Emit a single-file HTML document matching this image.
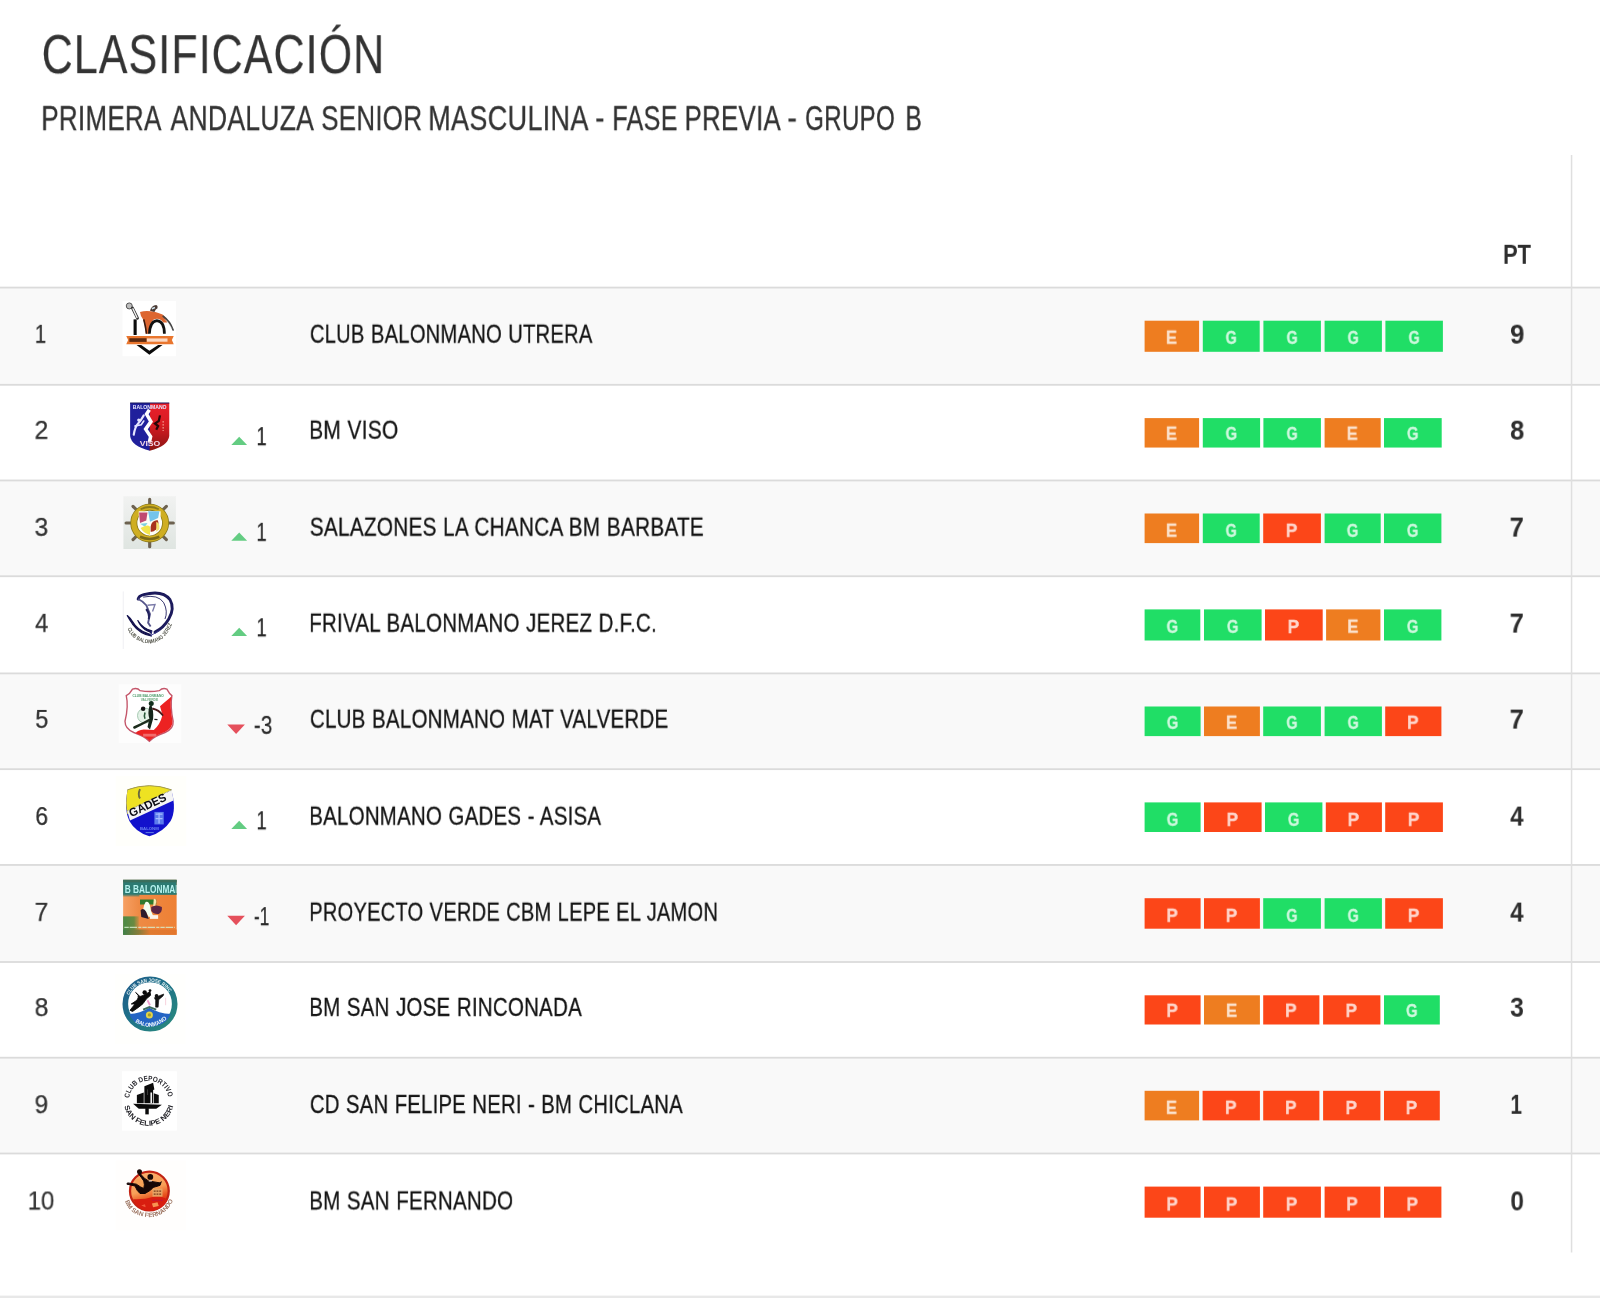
<!DOCTYPE html>
<html lang="es">
<head>
<meta charset="utf-8">
<title>Clasificación</title>
<style>
html,body{margin:0;padding:0;background:#fff;}
body{width:1600px;height:1298px;position:relative;overflow:hidden;font-family:"Liberation Sans",sans-serif;color:#333;}
.t{position:absolute;left:0;top:0;white-space:nowrap;line-height:1;transform-origin:0 0;display:block;margin:0;font-weight:normal;will-change:transform;}
h2.t{font-size:55.6px;color:#333;letter-spacing:.025em;-webkit-text-stroke:.2px #333;}
h4.sub{margin:0;font-weight:normal;font-size:35px;}
.sw{font-size:35px;color:#333;letter-spacing:.01em;-webkit-text-stroke:.3px #333;}
.nm{font-size:26.2px;color:#151515;word-spacing:.02em;letter-spacing:.012em;-webkit-text-stroke:.3px #151515;}
.rk{font-size:26.2px;color:#333;-webkit-text-stroke:.25px #333;}
.mv{font-size:26.2px;color:#2a2a2a;-webkit-text-stroke:.25px #2a2a2a;}
.pt{font-size:26.8px;font-weight:bold;color:#2e2e2e;}
.b{position:absolute;height:30.6px;}
.bl{font-size:18.4px;font-weight:bold;color:#fff;opacity:.78;-webkit-text-stroke:.3px #fff;}
.tri{position:absolute;width:0;height:0;border-left:8px solid transparent;border-right:8px solid transparent;}
.up{border-bottom:8.5px solid #62cd80;}
.dn{border-top:9.5px solid #e4505a;}
</style>
</head>
<body>
<svg class="grid" style="position:absolute;left:0;top:0;width:1600px;height:1298px" viewBox="0 0 1600 1298">
<rect x="0" y="287.56" width="1600" height="97.24" fill="#f9f9f9"/>
<rect x="0" y="480.47" width="1600" height="95.78" fill="#f9f9f9"/>
<rect x="0" y="673.40" width="1600" height="95.75" fill="#f9f9f9"/>
<rect x="0" y="864.94" width="1600" height="97.06" fill="#f9f9f9"/>
<rect x="0" y="1057.70" width="1600" height="95.80" fill="#f9f9f9"/>
<rect x="0" y="286.66" width="1600" height="1.8" fill="#dbdbdb"/>
<rect x="0" y="383.90" width="1600" height="1.8" fill="#dbdbdb"/>
<rect x="0" y="479.57" width="1600" height="1.8" fill="#dbdbdb"/>
<rect x="0" y="575.35" width="1600" height="1.8" fill="#dbdbdb"/>
<rect x="0" y="672.50" width="1600" height="1.8" fill="#dbdbdb"/>
<rect x="0" y="768.25" width="1600" height="1.8" fill="#dbdbdb"/>
<rect x="0" y="864.04" width="1600" height="1.8" fill="#dbdbdb"/>
<rect x="0" y="961.10" width="1600" height="1.8" fill="#dbdbdb"/>
<rect x="0" y="1056.80" width="1600" height="1.8" fill="#dbdbdb"/>
<rect x="0" y="1152.60" width="1600" height="1.8" fill="#dbdbdb"/>
<rect x="1144.6" y="320.70" width="54.5" height="31.10" fill="#ee7d20"/>
<rect x="1202.8" y="320.70" width="56.9" height="31.10" fill="#20de66"/>
<rect x="1263.4" y="320.70" width="57.5" height="31.10" fill="#20de66"/>
<rect x="1324.6" y="320.70" width="57.3" height="31.10" fill="#20de66"/>
<rect x="1385.4" y="320.70" width="57.5" height="31.10" fill="#20de66"/>
<rect x="1144.6" y="418.10" width="54.5" height="29.45" fill="#ee7d20"/>
<rect x="1202.8" y="418.10" width="57.3" height="29.45" fill="#20de66"/>
<rect x="1263.4" y="418.10" width="57.5" height="29.45" fill="#20de66"/>
<rect x="1324.6" y="418.10" width="56.1" height="29.45" fill="#ee7d20"/>
<rect x="1384.0" y="418.10" width="57.7" height="29.45" fill="#20de66"/>
<rect x="1144.6" y="513.50" width="54.5" height="29.60" fill="#ee7d20"/>
<rect x="1202.8" y="513.50" width="56.9" height="29.60" fill="#20de66"/>
<rect x="1263.2" y="513.50" width="57.7" height="29.60" fill="#fc4618"/>
<rect x="1324.6" y="513.50" width="56.1" height="29.60" fill="#20de66"/>
<rect x="1384.0" y="513.50" width="57.4" height="29.60" fill="#20de66"/>
<rect x="1144.6" y="609.40" width="55.7" height="31.10" fill="#20de66"/>
<rect x="1204.0" y="609.40" width="57.6" height="31.10" fill="#20de66"/>
<rect x="1265.0" y="609.40" width="57.7" height="31.10" fill="#fc4618"/>
<rect x="1326.1" y="609.40" width="54.3" height="31.10" fill="#ee7d20"/>
<rect x="1384.0" y="609.40" width="57.4" height="31.10" fill="#20de66"/>
<rect x="1144.6" y="706.50" width="56.0" height="29.60" fill="#20de66"/>
<rect x="1204.0" y="706.50" width="55.9" height="29.60" fill="#ee7d20"/>
<rect x="1263.2" y="706.50" width="57.7" height="29.60" fill="#20de66"/>
<rect x="1324.6" y="706.50" width="57.3" height="29.60" fill="#20de66"/>
<rect x="1385.2" y="706.50" width="56.2" height="29.60" fill="#fc4618"/>
<rect x="1144.6" y="802.40" width="56.0" height="29.60" fill="#20de66"/>
<rect x="1204.0" y="802.40" width="57.6" height="29.60" fill="#fc4618"/>
<rect x="1265.0" y="802.40" width="57.4" height="29.60" fill="#20de66"/>
<rect x="1325.8" y="802.40" width="56.1" height="29.60" fill="#fc4618"/>
<rect x="1385.2" y="802.40" width="57.7" height="29.60" fill="#fc4618"/>
<rect x="1144.6" y="898.20" width="56.0" height="30.50" fill="#fc4618"/>
<rect x="1204.0" y="898.20" width="55.9" height="30.50" fill="#fc4618"/>
<rect x="1263.2" y="898.20" width="57.7" height="30.50" fill="#20de66"/>
<rect x="1324.6" y="898.20" width="57.3" height="30.50" fill="#20de66"/>
<rect x="1385.2" y="898.20" width="57.7" height="30.50" fill="#fc4618"/>
<rect x="1144.6" y="995.30" width="56.0" height="29.20" fill="#fc4618"/>
<rect x="1204.0" y="995.30" width="55.9" height="29.20" fill="#ee7d20"/>
<rect x="1263.2" y="995.30" width="56.2" height="29.20" fill="#fc4618"/>
<rect x="1323.1" y="995.30" width="57.3" height="29.20" fill="#fc4618"/>
<rect x="1384.0" y="995.30" width="55.8" height="29.20" fill="#20de66"/>
<rect x="1144.6" y="1090.80" width="54.5" height="29.60" fill="#ee7d20"/>
<rect x="1202.6" y="1090.80" width="57.3" height="29.60" fill="#fc4618"/>
<rect x="1263.2" y="1090.80" width="56.2" height="29.60" fill="#fc4618"/>
<rect x="1323.1" y="1090.80" width="57.3" height="29.60" fill="#fc4618"/>
<rect x="1384.0" y="1090.80" width="55.8" height="29.60" fill="#fc4618"/>
<rect x="1144.6" y="1186.60" width="56.0" height="31.10" fill="#fc4618"/>
<rect x="1204.0" y="1186.60" width="55.9" height="31.10" fill="#fc4618"/>
<rect x="1263.2" y="1186.60" width="57.7" height="31.10" fill="#fc4618"/>
<rect x="1324.6" y="1186.60" width="55.8" height="31.10" fill="#fc4618"/>
<rect x="1384.0" y="1186.60" width="57.4" height="31.10" fill="#fc4618"/>
<path d="M231.3 445.00 L239.2 436.70 L247.1 445.00 Z" fill="#63cc82"/>
<path d="M231.3 540.75 L239.2 532.45 L247.1 540.75 Z" fill="#63cc82"/>
<path d="M231.3 636.10 L239.2 627.80 L247.1 636.10 Z" fill="#63cc82"/>
<path d="M227.3 724.55 L244.9 724.55 L236.1 733.95 Z" fill="#e5505c"/>
<path d="M231.3 829.10 L239.2 820.80 L247.1 829.10 Z" fill="#63cc82"/>
<path d="M227.3 915.80 L244.9 915.80 L236.1 925.20 Z" fill="#e5505c"/>
<rect x="1570.8" y="155" width="1.5" height="1097.5" fill="#dfdfdf"/>
<rect x="0" y="1295.6" width="1600" height="2.4" fill="#e8e8e8"/>
</svg>
<h2 class="t " style="transform:translate(41.71px,27.18px) scaleX(0.7733)">CLASIFICACIÓN</h2>
<h4 class="sub"><span class="t sw" style="transform:translate(41.22px,100.10px) scaleX(0.7435)">PRIMERA</span> <span class="t sw" style="transform:translate(170.51px,100.10px) scaleX(0.7580)">ANDALUZA</span> <span class="t sw" style="transform:translate(321.17px,100.10px) scaleX(0.7415)">SENIOR</span> <span class="t sw" style="transform:translate(428.14px,100.10px) scaleX(0.7741)">MASCULINA</span> <span class="t sw" style="transform:translate(595.29px,99.41px) scaleX(0.7834)">-</span> <span class="t sw" style="transform:translate(612.28px,100.10px) scaleX(0.7199)">FASE</span> <span class="t sw" style="transform:translate(684.47px,100.10px) scaleX(0.7396)">PREVIA</span> <span class="t sw" style="transform:translate(787.40px,99.41px) scaleX(0.8115)">-</span> <span class="t sw" style="transform:translate(805.08px,100.10px) scaleX(0.6916)">GRUPO</span> <span class="t sw" style="transform:translate(905.34px,100.10px) scaleX(0.7065)">B</span></h4>
<div class="t pt" style="transform:translate(1503.00px,241.80px) scaleX(0.8178)">PT</div>
<div class="t rk" style="transform:translate(34.84px,320.78px) scaleX(0.7721)">1</div>
<svg class="logo" style="position:absolute;left:100px;top:290px;width:100px;height:81px;filter:blur(.55px)" viewBox="0 0 1600 1296">
<rect x="360" y="176" width="856" height="884" fill="#fff"/>
<path d="M562 470 V720" stroke="#0c0c0c" stroke-width="50" fill="none"/>
<path d="M640 350 Q800 310 1000 390 Q1060 430 1075 520 L1010 520 Q960 440 860 470 Q800 520 775 700 L730 700 Q720 560 690 470 Q650 430 640 350Z" fill="#dd6630"/>
<path d="M790 700 Q800 500 910 490 Q1030 500 1030 700" stroke="#111" stroke-width="44" fill="none"/>
<path d="M700 470 Q730 580 745 700" stroke="#3a1a10" stroke-width="26" fill="none"/>
<circle cx="468" cy="255" r="48" fill="#bdbdbd" stroke="#555" stroke-width="16"/>
<path d="M520 290 L600 450" stroke="#333" stroke-width="46" stroke-linecap="round"/>
<path d="M527 300 L592 440" stroke="#f4f4f4" stroke-width="22" stroke-linecap="round"/>
<path d="M800 330 Q820 250 900 240 Q930 250 920 290 Q890 300 870 350Z" fill="#4a3a34"/>
<path d="M830 300 L880 280" stroke="#cfe4ee" stroke-width="22"/>
<path d="M1010 420 Q1120 500 1170 640" stroke="#444" stroke-width="26" fill="none" stroke-linecap="round"/>
<path d="M1040 470 Q1110 540 1150 620" stroke="#ddd" stroke-width="8" fill="none"/>
<path d="M420 735 L1180 735 L1150 800 L1180 868 L420 868 L450 800Z" fill="#e9762e"/>
<rect x="470" y="772" width="275" height="58" fill="#5a2a12"/>
<rect x="750" y="775" width="330" height="52" fill="#fbd9c4"/>
<path d="M585 880 L790 1035 L1000 880 L930 880 L790 970 L660 880Z" fill="#0a0a0a"/>
<path d="M740 912 L840 912" stroke="#fff" stroke-width="14"/>
</svg>
<div class="t nm" style="transform:translate(309.90px,320.75px) scaleX(0.7701)">CLUB BALONMANO UTRERA</div>
<div class="t bl" style="transform:translate(1165.86px,328.68px) scaleX(0.9047)">E</div>
<div class="t bl" style="transform:translate(1225.63px,328.84px) scaleX(0.7707)">G</div>
<div class="t bl" style="transform:translate(1286.56px,328.82px) scaleX(0.7716)">G</div>
<div class="t bl" style="transform:translate(1347.63px,328.84px) scaleX(0.7707)">G</div>
<div class="t bl" style="transform:translate(1408.56px,328.82px) scaleX(0.7716)">G</div>
<div class="t pt" style="transform:translate(1510.05px,321.66px) scaleX(0.9627)">9</div>
<div class="t rk" style="transform:translate(34.44px,416.78px) scaleX(0.9542)">2</div>
<svg class="logo" style="position:absolute;left:100px;top:386px;width:100px;height:81px;filter:blur(.55px)" viewBox="0 0 1600 1296"><defs><linearGradient id="vr" x1="0" y1="0" x2="0" y2="1"><stop offset="0" stop-color="#e8202c"/><stop offset=".45" stop-color="#d81c22"/><stop offset="1" stop-color="#8a1414"/></linearGradient></defs>
<path d="M482 272 H1108 V800 Q1090 960 795 1035 Q500 960 482 800Z" fill="#fff"/>
<path d="M482 272 H800 V1035 Q500 960 482 800Z" fill="#20209c"/>
<path d="M800 272 H1108 V800 Q1090 960 795 1035Z" fill="url(#vr)"/>
<path d="M790 380 L745 450 L815 570 L730 690 L810 810 L790 900" stroke="#fff" stroke-width="56" fill="none" stroke-linejoin="miter"/>
<path d="M482 272 H1108" stroke="#14145a" stroke-width="18"/>
<text x="795" y="362" font-family="Liberation Sans, sans-serif" font-weight="bold" font-size="74" fill="#e8e8ff" text-anchor="middle" textLength="540" lengthAdjust="spacingAndGlyphs">BALONMANO</text>
<path d="M700 470 Q650 560 610 600 Q560 650 540 780" stroke="#e6e6ff" stroke-width="34" fill="none" stroke-linecap="round"/>
<path d="M560 640 L660 620 L700 560" stroke="#e6e6ff" stroke-width="26" fill="none" stroke-linecap="round"/>
<circle cx="620" cy="545" r="26" fill="#e6e6ff"/>
<path d="M960 470 L940 560 L880 600 L930 640 L900 700" stroke="#2a0606" stroke-width="36" fill="none"/>
<path d="M1010 560 V720" stroke="#f7b0a0" stroke-width="16" stroke-dasharray="26 22"/>
<text x="800" y="962" font-family="Liberation Sans, sans-serif" font-weight="bold" font-size="110" fill="#f3d6e6" text-anchor="middle" textLength="330" lengthAdjust="spacingAndGlyphs">VISO</text>
</svg>
<div class="t mv" style="transform:translate(256.35px,423.11px) scaleX(0.7087)">1</div>
<div class="t nm" style="transform:translate(309.20px,416.75px) scaleX(0.7972)">BM VISO</div>
<div class="t bl" style="transform:translate(1165.86px,424.68px) scaleX(0.9047)">E</div>
<div class="t bl" style="transform:translate(1225.58px,424.82px) scaleX(0.7997)">G</div>
<div class="t bl" style="transform:translate(1286.56px,424.82px) scaleX(0.7716)">G</div>
<div class="t bl" style="transform:translate(1346.66px,424.63px) scaleX(0.9018)">E</div>
<div class="t bl" style="transform:translate(1406.96px,424.83px) scaleX(0.8056)">G</div>
<div class="t pt" style="transform:translate(1510.09px,417.66px) scaleX(0.9524)">8</div>
<div class="t rk" style="transform:translate(34.48px,513.87px) scaleX(0.9464)">3</div>
<svg class="logo" style="position:absolute;left:100px;top:483px;width:100px;height:81px;filter:blur(.55px)" viewBox="0 0 1600 1296"><defs><linearGradient id="bg3" x1="0" y1="0" x2="0" y2="1"><stop offset="0" stop-color="#f1f2f1"/><stop offset="1" stop-color="#dfe5e1"/></linearGradient></defs>
<rect x="375" y="210" width="840" height="846" fill="url(#bg3)"/>
<path d="M795 640 L1173 640" stroke="#6d6250" stroke-width="50" stroke-linecap="round"/><path d="M795 640 L1062 907" stroke="#6d6250" stroke-width="50" stroke-linecap="round"/><path d="M795 640 L795 1018" stroke="#6d6250" stroke-width="50" stroke-linecap="round"/><path d="M795 640 L528 907" stroke="#6d6250" stroke-width="50" stroke-linecap="round"/><path d="M795 640 L417 640" stroke="#6d6250" stroke-width="50" stroke-linecap="round"/><path d="M795 640 L528 373" stroke="#6d6250" stroke-width="50" stroke-linecap="round"/><path d="M795 640 L795 262" stroke="#6d6250" stroke-width="50" stroke-linecap="round"/><path d="M795 640 L1062 373" stroke="#6d6250" stroke-width="50" stroke-linecap="round"/>
<circle cx="795" cy="640" r="254" fill="#fff" stroke="#8a7a1c" stroke-width="112"/>
<circle cx="795" cy="640" r="254" fill="none" stroke="#cfae22" stroke-width="86"/>
<path d="M620 450 H970 V650 Q960 780 795 840 Q630 780 620 650Z" fill="#fdfdf4"/>
<path d="M625 470 L760 470 L740 600 L640 640Z" fill="#c04a72"/>
<path d="M770 450 L950 450 L930 560 L800 620 Z" fill="#74c4ea"/>
<path d="M640 650 L760 640 L720 700 Z" fill="#7fd0e0"/>
<path d="M650 720 Q760 650 800 700 L800 830 Q690 800 650 720Z" fill="#f2e44c"/>
<path d="M810 700 Q820 600 920 590 Q960 650 900 740 Q850 790 810 780Z" fill="#a8321c"/>
<path d="M900 620 Q960 640 950 740 L900 780 Z" fill="#f3e070"/>
<path d="M640 860 Q795 930 950 860" stroke="#7a6a18" stroke-width="40" fill="none"/>
<path d="M650 420 Q795 350 940 420" stroke="#8a7a1c" stroke-width="30" fill="none"/>
</svg>
<div class="t mv" style="transform:translate(256.33px,518.76px) scaleX(0.7101)">1</div>
<div class="t nm" style="transform:translate(309.78px,513.75px) scaleX(0.7930)">SALAZONES LA CHANCA BM BARBATE</div>
<div class="t bl" style="transform:translate(1165.86px,521.68px) scaleX(0.9047)">E</div>
<div class="t bl" style="transform:translate(1225.63px,521.84px) scaleX(0.7707)">G</div>
<div class="t bl" style="transform:translate(1285.76px,521.79px) scaleX(0.9445)">P</div>
<div class="t bl" style="transform:translate(1346.75px,521.83px) scaleX(0.8109)">G</div>
<div class="t bl" style="transform:translate(1406.86px,521.83px) scaleX(0.8037)">G</div>
<div class="t pt" style="transform:translate(1509.62px,514.58px) scaleX(0.9547)">7</div>
<div class="t rk" style="transform:translate(35.11px,609.79px) scaleX(0.9085)">4</div>
<svg class="logo" style="position:absolute;left:100px;top:579px;width:100px;height:81px;filter:blur(.55px)" viewBox="0 0 1600 1296">
<rect x="370" y="195" width="850" height="930" fill="#fff"/>
<path d="M372 200 V1120" stroke="#e4e4ec" stroke-width="10"/>
<path d="M610 320 Q620 270 700 250 Q1000 170 1120 330 Q1200 470 1100 640 Q1020 780 880 850" stroke="#1c1a5c" stroke-width="46" fill="none" stroke-linecap="round"/>
<path d="M690 290 Q930 240 1020 380 Q1090 520 1040 640" stroke="#1c1a5c" stroke-width="14" fill="none"/>
<path d="M436 585 Q470 650 520 720 Q640 880 820 910 Q800 880 760 870 Q600 820 520 680 Q480 620 436 585Z" fill="#14124e" stroke="#14124e" stroke-width="20" stroke-linejoin="round"/>
<path d="M605 665 Q690 800 830 830 L820 870 Q800 840 760 830 Q660 790 605 665Z" fill="#14124e" stroke="#14124e" stroke-width="18" stroke-linejoin="round"/>
<path d="M820 830 V920" stroke="#3a3890" stroke-width="12"/>
<path d="M820 900 L960 820" stroke="#3a3890" stroke-width="14"/>
<path d="M610 320 Q680 350 740 420 L800 560 L770 700 L810 760" stroke="#55558a" stroke-width="30" fill="none"/>
<path d="M760 420 L880 410 L840 520" stroke="#7a7aa8" stroke-width="22" fill="none"/>
<path d="M740 480 Q800 560 780 640" stroke="#23235e" stroke-width="34" fill="none"/>
<path id="jt" d="M440 790 Q520 1010 800 1030 Q1060 1010 1170 670" fill="none"/>
<text font-family="Liberation Sans, sans-serif" font-weight="bold" font-size="88" fill="#55564c" letter-spacing="2"><textPath href="#jt" startOffset="0" textLength="960" lengthAdjust="spacingAndGlyphs">CLUB BALONMANO JEREZ</textPath></text>
</svg>
<div class="t mv" style="transform:translate(256.36px,614.24px) scaleX(0.7087)">1</div>
<div class="t nm" style="transform:translate(309.22px,609.75px) scaleX(0.7826)">FRIVAL BALONMANO JEREZ D.F.C.</div>
<div class="t bl" style="transform:translate(1166.58px,617.82px) scaleX(0.7997)">G</div>
<div class="t bl" style="transform:translate(1226.90px,617.84px) scaleX(0.8075)">G</div>
<div class="t bl" style="transform:translate(1287.56px,617.94px) scaleX(0.9465)">P</div>
<div class="t bl" style="transform:translate(1347.23px,617.63px) scaleX(0.9079)">E</div>
<div class="t bl" style="transform:translate(1406.86px,617.83px) scaleX(0.8037)">G</div>
<div class="t pt" style="transform:translate(1509.62px,610.58px) scaleX(0.9547)">7</div>
<div class="t rk" style="transform:translate(35.29px,705.93px) scaleX(0.8953)">5</div>
<svg class="logo" style="position:absolute;left:100px;top:675px;width:100px;height:81px;filter:blur(.55px)" viewBox="0 0 1600 1296">
<rect x="300" y="150" width="1000" height="940" fill="#fdfdfd"/>
<path d="M520 225 Q600 200 640 250 Q800 280 950 250 Q1000 200 1070 225 Q1110 300 1150 330 Q1120 500 1170 740 Q1180 860 1040 920 Q860 980 790 1060 Q720 980 540 920 Q400 860 400 740 Q460 500 420 330 Q480 300 520 225Z" fill="#fff" stroke="#c4566a" stroke-width="22"/>
<path d="M1140 345 Q1115 500 1160 740 Q1170 850 1035 910 Q860 975 790 1050 Q730 985 570 930 Q600 880 700 870 L860 880 Q960 800 1000 640 L960 500 Q1080 400 1140 345Z" fill="#ec2222"/>
<path d="M690 940 H900 V985 H690Z" fill="#f26a6a"/>
<text x="770" y="355" font-family="Liberation Sans, sans-serif" font-weight="bold" font-size="70" fill="#4c9a68" text-anchor="middle" textLength="500" lengthAdjust="spacingAndGlyphs">CLUB BALONMANO</text>
<text x="790" y="420" font-family="Liberation Sans, sans-serif" font-weight="bold" font-size="56" fill="#6aa87c" text-anchor="middle" textLength="280" lengthAdjust="spacingAndGlyphs">VALVERDE</text>
<circle cx="720" cy="650" r="120" fill="#e4f2e8" stroke="#9cc4a8" stroke-width="14"/>
<circle cx="690" cy="540" r="36" fill="#101010"/>
<circle cx="820" cy="455" r="40" fill="#12301c"/>
<path d="M820 480 Q860 560 850 700 L800 870 L760 830 L790 700 Q760 600 790 500Z" fill="#15251a"/>
<path d="M850 540 Q940 560 1000 640" stroke="#4a1a1a" stroke-width="30" fill="none" stroke-linecap="round"/>
<path d="M790 720 Q680 780 550 840" stroke="#1c2c1c" stroke-width="40" fill="none" stroke-linecap="round"/>
<path d="M720 600 Q700 660 720 700" stroke="#2a5a3a" stroke-width="26" fill="none"/>
<path d="M870 710 L920 715" stroke="#222" stroke-width="20"/>
</svg>
<div class="t mv" style="transform:translate(253.77px,711.86px) scaleX(0.7966)">-3</div>
<div class="t nm" style="transform:translate(309.92px,705.75px) scaleX(0.7832)">CLUB BALONMANO MAT VALVERDE</div>
<div class="t bl" style="transform:translate(1166.80px,713.82px) scaleX(0.8032)">G</div>
<div class="t bl" style="transform:translate(1225.93px,713.66px) scaleX(0.9099)">E</div>
<div class="t bl" style="transform:translate(1286.42px,713.83px) scaleX(0.7724)">G</div>
<div class="t bl" style="transform:translate(1347.63px,713.84px) scaleX(0.7707)">G</div>
<div class="t bl" style="transform:translate(1407.00px,713.74px) scaleX(0.9428)">P</div>
<div class="t pt" style="transform:translate(1509.62px,706.58px) scaleX(0.9547)">7</div>
<div class="t rk" style="transform:translate(35.31px,802.98px) scaleX(0.8753)">6</div>
<svg class="logo" style="position:absolute;left:100px;top:771px;width:100px;height:81px;filter:blur(.55px)" viewBox="0 0 1600 1296">
<rect x="250" y="80" width="1130" height="1120" fill="#fffffb"/>
<path id="sh6" d="M440 300 Q790 170 1140 300 Q1230 620 1130 800 Q1010 980 790 1045 Q570 980 470 800 Q380 620 440 300Z" fill="#1212cc"/>
<path d="M440 300 Q790 170 1140 300 L1150 360 L440 690 Q400 520 440 300Z" fill="#eee222"/>
<path d="M440 300 Q790 170 1140 300" stroke="#a8a048" stroke-width="16" fill="none"/>
<path d="M436 640 L1150 300 L1175 470 L480 790Z" fill="#f4f4f4"/>
<path d="M436 640 L1150 300" stroke="#9a9a8a" stroke-width="18" stroke-dasharray="14 12"/>
<text transform="translate(500 740) rotate(-25.5)" font-family="Liberation Sans, sans-serif" font-weight="bold" font-size="185" fill="#0c0c14" textLength="640" lengthAdjust="spacingAndGlyphs">GADES</text>
<path d="M640 290 Q600 380 640 440" stroke="#6a6a40" stroke-width="30" fill="none"/>
<rect x="870" y="655" width="150" height="200" fill="#5c7cec"/>
<path d="M890 690 H1000 M890 760 H1000 M945 670 V840" stroke="#a6bcff" stroke-width="20"/>
<text x="790" y="950" font-family="Liberation Sans, sans-serif" font-weight="bold" font-size="70" fill="#6c86f0" text-anchor="middle" textLength="300" lengthAdjust="spacingAndGlyphs">BALONM</text>
<path d="M730 985 H860" stroke="#5c74e0" stroke-width="18"/>
</svg>
<div class="t mv" style="transform:translate(256.36px,807.22px) scaleX(0.7087)">1</div>
<div class="t nm" style="transform:translate(309.25px,802.75px) scaleX(0.7807)">BALONMANO GADES - ASISA</div>
<div class="t bl" style="transform:translate(1166.73px,810.80px) scaleX(0.8080)">G</div>
<div class="t bl" style="transform:translate(1226.53px,810.86px) scaleX(0.9392)">P</div>
<div class="t bl" style="transform:translate(1287.87px,810.83px) scaleX(0.8026)">G</div>
<div class="t bl" style="transform:translate(1347.56px,810.86px) scaleX(0.9465)">P</div>
<div class="t bl" style="transform:translate(1407.76px,810.79px) scaleX(0.9445)">P</div>
<div class="t pt" style="transform:translate(1510.23px,803.61px) scaleX(0.8917)">4</div>
<div class="t rk" style="transform:translate(34.50px,898.78px) scaleX(0.9476)">7</div>
<svg class="logo" style="position:absolute;left:100px;top:867px;width:100px;height:81px;filter:blur(.55px)" viewBox="0 0 1600 1296"><defs><clipPath id="c7"><rect x="370" y="205" width="856" height="880"/></clipPath><linearGradient id="o7" x1="0" y1="0" x2="1" y2="0"><stop offset="0" stop-color="#f6a064"/><stop offset=".3" stop-color="#ee8a44"/><stop offset="1" stop-color="#ee8034"/></linearGradient><linearGradient id="g7" x1="0" y1="0" x2="1" y2="0"><stop offset="0" stop-color="#4a8a46"/><stop offset=".7" stop-color="#6a8a40"/><stop offset="1" stop-color="#b08a3c" stop-opacity=".6"/></linearGradient><linearGradient id="b7" x1="0" y1="0" x2="1" y2="0"><stop offset="0" stop-color="#3e8048"/><stop offset=".3" stop-color="#8a7c3a"/><stop offset=".5" stop-color="#e07a30"/><stop offset="1" stop-color="#e4762c"/></linearGradient></defs>
<rect x="370" y="205" width="856" height="880" fill="url(#o7)"/>
<rect x="370" y="205" width="856" height="240" fill="#2c7a72"/>
<rect x="370" y="205" width="856" height="40" fill="#3a6e5c"/>
<rect x="370" y="440" width="260" height="30" fill="#2c7a72" opacity=".6"/>
<g clip-path="url(#c7)"><text x="395" y="408" font-family="Liberation Sans, sans-serif" font-weight="bold" font-size="165" fill="#b6f2ee" textLength="1010" lengthAdjust="spacingAndGlyphs">B BALONMANO</text></g>
<rect x="370" y="790" width="250" height="295" fill="url(#g7)"/>
<rect x="370" y="1000" width="856" height="85" fill="url(#b7)"/>
<path d="M390 965 H1200" stroke="#d8f0d0" stroke-width="20" stroke-dasharray="70 14 120 18 50 16" opacity=".8"/>
<path d="M640 520 H900 V600 H640Z" fill="#2f7a2c"/>
<path d="M730 560 Q780 540 800 620 Q810 720 850 780 L780 800 Q740 720 690 680 Q700 600 730 560Z" fill="#f2fff0"/>
<path d="M860 510 Q900 500 900 560 L880 640 L850 640Z" fill="#f6e8b0"/>
<path d="M650 690 Q700 640 740 720 L780 830 L660 800Z" fill="#2c1c2c"/>
<path d="M820 640 Q900 590 990 640 Q1000 720 940 750 Q860 760 820 700Z" fill="#5a2444"/>
<path d="M800 770 H930 V830 H800Z" fill="#fbf3ea"/>
</svg>
<div class="t mv" style="transform:translate(253.92px,903.11px) scaleX(0.6623)">-1</div>
<div class="t nm" style="transform:translate(309.25px,898.75px) scaleX(0.7661)">PROYECTO VERDE CBM LEPE EL JAMON</div>
<div class="t bl" style="transform:translate(1166.36px,906.70px) scaleX(0.9338)">P</div>
<div class="t bl" style="transform:translate(1225.71px,906.77px) scaleX(0.9433)">P</div>
<div class="t bl" style="transform:translate(1286.42px,906.83px) scaleX(0.7724)">G</div>
<div class="t bl" style="transform:translate(1347.63px,906.84px) scaleX(0.7707)">G</div>
<div class="t bl" style="transform:translate(1407.76px,906.79px) scaleX(0.9445)">P</div>
<div class="t pt" style="transform:translate(1510.23px,899.58px) scaleX(0.8917)">4</div>
<div class="t rk" style="transform:translate(34.61px,994.08px) scaleX(0.9517)">8</div>
<svg class="logo" style="position:absolute;left:100px;top:964px;width:100px;height:81px;filter:blur(.55px)" viewBox="0 0 1600 1296"><defs><linearGradient id="r8" x1="0" y1="0" x2="1" y2="1"><stop offset="0" stop-color="#1f5c8a"/><stop offset=".5" stop-color="#1f7488"/><stop offset="1" stop-color="#2a8a7c"/></linearGradient></defs>
<rect x="240" y="160" width="1130" height="1120" fill="#fffffd"/>
<circle cx="800" cy="640" r="395" fill="#fff" stroke="url(#r8)" stroke-width="90"/>
<path d="M470 800 Q640 790 790 700 Q940 790 1130 800 Q1060 990 800 1000 Q540 990 470 800Z" fill="#2464c4"/>
<path d="M690 730 L790 690 L900 730" stroke="#3e6e62" stroke-width="30" fill="none"/>
<circle cx="790" cy="815" r="56" fill="#e2d24a"/>
<circle cx="790" cy="815" r="26" fill="#a89c2c"/>
<path id="t8a" d="M470 500 Q560 300 800 285 Q1040 300 1130 500" fill="none"/>
<text font-family="Liberation Sans, sans-serif" font-weight="bold" font-size="82" fill="#eaf6f6"><textPath href="#t8a" textLength="780" lengthAdjust="spacingAndGlyphs">CLUB SAN JOSE RINC</textPath></text>
<path id="t8b" d="M560 930 Q800 1090 1050 900" fill="none"/>
<text font-family="Liberation Sans, sans-serif" font-weight="bold" font-size="92" fill="#f2fbfb"><textPath href="#t8b" textLength="560" lengthAdjust="spacingAndGlyphs">BALONMANO</textPath></text>
<circle cx="715" cy="455" r="36" fill="#0a0a0a"/>
<path d="M570 455 L640 520 L700 500 L800 440 L810 500 L740 560 Q700 640 620 690 L520 760 L480 740 L560 640 L500 640 L590 580 Q620 540 610 500Z" fill="#0a0a0a" stroke="#0a0a0a" stroke-width="14" stroke-linejoin="round"/>
<circle cx="800" cy="425" r="22" fill="#0a0a0a"/>
<circle cx="905" cy="510" r="30" fill="#121212"/>
<path d="M870 540 L1020 480 L1010 510 L940 570 L930 690 L890 690 L890 580Z" fill="#121212" stroke="#121212" stroke-width="10" stroke-linejoin="round"/>
<path d="M760 580 L800 660" stroke="#f0a0d0" stroke-width="30"/>
<path d="M1050 540 V660" stroke="#f2b8c8" stroke-width="10"/>
</svg>
<div class="t nm" style="transform:translate(309.24px,993.88px) scaleX(0.7821)">BM SAN JOSE RINCONADA</div>
<div class="t bl" style="transform:translate(1166.34px,1001.80px) scaleX(0.9352)">P</div>
<div class="t bl" style="transform:translate(1225.92px,1001.73px) scaleX(0.9083)">E</div>
<div class="t bl" style="transform:translate(1285.01px,1001.70px) scaleX(0.9434)">P</div>
<div class="t bl" style="transform:translate(1345.48px,1001.87px) scaleX(0.9390)">P</div>
<div class="t bl" style="transform:translate(1406.04px,1001.94px) scaleX(0.8025)">G</div>
<div class="t pt" style="transform:translate(1510.18px,994.75px) scaleX(0.9169)">3</div>
<div class="t rk" style="transform:translate(34.52px,1091.16px) scaleX(0.9375)">9</div>
<svg class="logo" style="position:absolute;left:100px;top:1060px;width:100px;height:81px;filter:blur(.55px)" viewBox="0 0 1600 1296">
<rect x="350" y="180" width="880" height="950" fill="#fff"/>
<path id="t9" d="M464.4 611.2 A318 318 0 0 1 1094.9 605.7" fill="none"/>
<text font-family="Liberation Sans, sans-serif" font-weight="bold" font-size="116" fill="#26262c"><textPath href="#t9" textLength="905" lengthAdjust="spacingAndGlyphs">CLUB DEPORTIVO</textPath></text>
<path id="t9b" d="M388.3 740.4 A402 402 0 0 0 1174.6 726.7" fill="none"/>
<text font-family="Liberation Sans, sans-serif" font-weight="bold" font-size="116" fill="#26262c"><textPath href="#t9b" textLength="1085" lengthAdjust="spacingAndGlyphs">SAN FELIPE NERI</textPath></text>
<path d="M710 420 L850 365 L870 470 L850 480 L850 690 L710 690Z" fill="#0a0a0a"/>
<path d="M590 560 L700 520 V690 H590Z" fill="#0d0d0d"/>
<path d="M860 530 L940 560 V690 H860Z" fill="#0d0d0d"/>
<path d="M820 520 V690" stroke="#f4f4f4" stroke-width="26"/>
<path d="M760 470 V560" stroke="#3a3a3a" stroke-width="18"/>
<path d="M530 700 L990 715 L900 780 H620Z" fill="#0a0a0a"/>
<rect x="725" y="770" width="55" height="100" fill="#0a0a0a"/>
</svg>
<div class="t nm" style="transform:translate(309.90px,1091.05px) scaleX(0.7743)">CD SAN FELIPE NERI - BM CHICLANA</div>
<div class="t bl" style="transform:translate(1165.83px,1098.78px) scaleX(0.9022)">E</div>
<div class="t bl" style="transform:translate(1224.95px,1098.80px) scaleX(0.9437)">P</div>
<div class="t bl" style="transform:translate(1285.03px,1098.83px) scaleX(0.9358)">P</div>
<div class="t bl" style="transform:translate(1345.50px,1098.94px) scaleX(0.9370)">P</div>
<div class="t bl" style="transform:translate(1405.63px,1098.99px) scaleX(0.9440)">P</div>
<div class="t pt" style="transform:translate(1510.37px,1091.80px) scaleX(0.7819)">1</div>
<div class="t rk" style="transform:translate(27.73px,1187.46px) scaleX(0.9132)">10</div>
<svg class="logo" style="position:absolute;left:100px;top:1156px;width:100px;height:81px;filter:blur(.55px)" viewBox="0 0 1600 1296"><defs><linearGradient id="f10" x1="0" y1="0" x2="0.3" y2="1"><stop offset="0" stop-color="#fbb070"/><stop offset=".55" stop-color="#f8a058"/><stop offset=".8" stop-color="#e8501c"/><stop offset="1" stop-color="#d82010"/></linearGradient></defs>
<rect x="250" y="70" width="1130" height="1120" fill="#fffefd"/>
<circle cx="790" cy="560" r="310" fill="url(#f10)" stroke="#c22414" stroke-width="36"/>
<path d="M530 690 Q700 700 860 650 Q1000 640 1080 700 Q1020 860 790 880 Q600 860 530 690Z" fill="#d81e10"/>
<path d="M560 380 Q640 340 700 430 L720 560 Q640 620 580 560Z" fill="#f8a258"/>
<path d="M830 760 L920 740 L940 800 L850 820Z" fill="#f69452"/>
<path d="M660 790 L720 770 L730 820Z" fill="#f05a3c"/>
<circle cx="632" cy="252" r="40" fill="#1a0806"/>
<circle cx="805" cy="335" r="46" fill="#1a0806"/>
<path d="M640 280 Q720 380 780 400 L960 430 L980 410 L960 470 L860 500 Q800 560 720 600 L640 600 Q590 560 560 480 L430 450 L440 430 L580 450 Q650 500 700 520 Q720 460 700 400 Q660 340 620 290Z" fill="#160606" stroke="#160606" stroke-width="16" stroke-linejoin="round"/>
<path d="M780 400 L830 400" stroke="#fff" stroke-width="14"/>
<rect x="840" y="520" width="160" height="130" fill="#e6a868" opacity=".9"/>
<path d="M860 560 H980 M860 610 H980" stroke="#7a3c1c" stroke-width="20" stroke-dasharray="30 14"/>
<path d="M840 710 H1010" stroke="#c0143c" stroke-width="20" stroke-dasharray="24 10"/>
<path id="t10" d="M400 720 Q470 960 790 980 Q1080 960 1180 680" fill="none"/>
<text font-family="Liberation Sans, sans-serif" font-weight="bold" font-size="100" fill="#8a5a44" opacity=".85"><textPath href="#t10" textLength="1000" lengthAdjust="spacingAndGlyphs">BM SAN FERNANDO</textPath></text>
</svg>
<div class="t nm" style="transform:translate(309.24px,1187.45px) scaleX(0.7835)">BM SAN FERNANDO</div>
<div class="t bl" style="transform:translate(1166.34px,1195.41px) scaleX(0.9346)">P</div>
<div class="t bl" style="transform:translate(1225.68px,1195.52px) scaleX(0.9477)">P</div>
<div class="t bl" style="transform:translate(1285.78px,1195.48px) scaleX(0.9407)">P</div>
<div class="t bl" style="transform:translate(1346.26px,1195.29px) scaleX(0.9335)">P</div>
<div class="t bl" style="transform:translate(1406.42px,1195.51px) scaleX(0.9389)">P</div>
<div class="t pt" style="transform:translate(1510.42px,1188.43px) scaleX(0.9081)">0</div>
</body>
</html>
